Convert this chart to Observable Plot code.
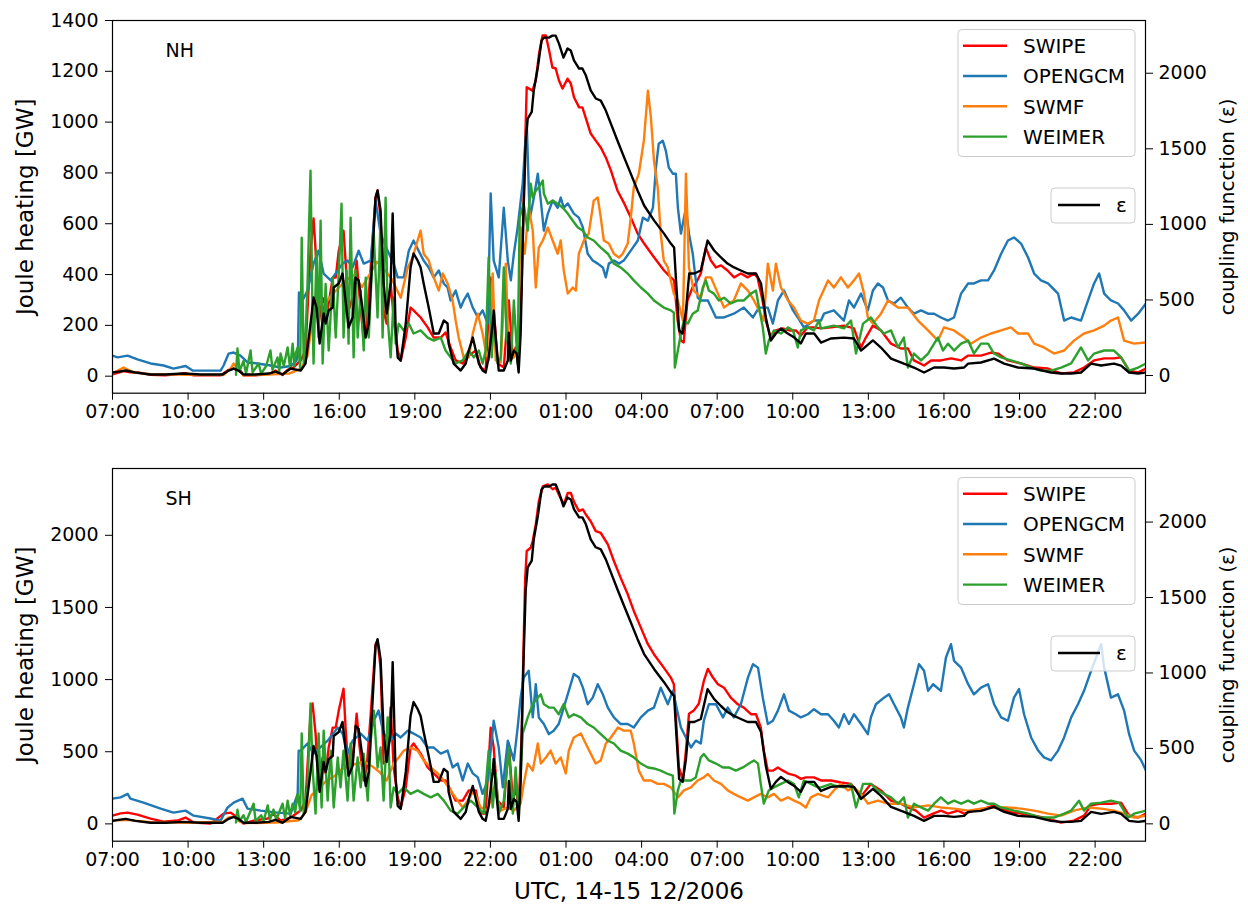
<!DOCTYPE html>
<html><head><meta charset="utf-8">
<script src="https://cdn.jsdelivr.net/npm/d3@7"></script>
<script src="https://cdn.jsdelivr.net/npm/@observablehq/plot@0.6"></script>
<style>
body{margin:0;background:#fff;font-family:"DejaVu Sans",sans-serif;}
#chart{width:1248px;height:904px;}
#chart svg{display:block;}
</style></head><body><div id="chart"></div>
<script>
// time values: hours after 2006-12-14 07:00 UTC
const seriesNames = ["SWIPE", "OPENGCM", "SWMF", "WEIMER"];
const seriesColors = ["#ff0000", "#1f77b4", "#ff7f0e", "#2ca02c"];
const epsName = "ε";
const panelNames = ["NH", "SH"];
const xTickHours = [0,3,6,9,12,15,18,21,24,27,30,33,36,39];
const nhLeftTicks = [0,200,400,600,800,1000,1200,1400];
const shLeftTicks = [0,500,1000,1500,2000];
const rightTicks = [0,500,1000,1500,2000];

const eps = [[0,20],[0.24,26],[0.52,33],[0.91,20],[1.51,7],[2.1,7],[2.82,13],[3.49,7],[4.37,7],[4.61,33],[4.81,46],[5.0,33],[5.2,7],[5.68,7],[6.2,13],[6.47,26],[6.75,7],[7.07,46],[7.47,33],[7.66,79],[7.86,344],[7.98,516],[8.1,450],[8.22,212],[8.38,410],[8.46,344],[8.58,430],[8.74,450],[8.78,582],[8.98,609],[9.13,675],[9.25,496],[9.37,318],[9.53,384],[9.65,648],[9.77,629],[9.93,430],[10.05,251],[10.17,344],[10.29,715],[10.44,1178],[10.52,1224],[10.64,1092],[10.76,609],[10.88,410],[11.04,609],[11.12,1072],[11.16,827],[11.24,298],[11.32,119],[11.44,99],[11.64,344],[11.83,715],[11.95,807],[12.11,761],[12.23,715],[12.35,609],[12.55,450],[12.75,278],[12.95,278],[13.15,364],[13.3,344],[13.34,212],[13.54,79],[13.82,33],[14.02,79],[14.14,165],[14.3,251],[14.42,165],[14.54,79],[14.69,33],[14.81,20],[14.93,119],[15.09,344],[15.13,430],[15.21,251],[15.33,33],[15.53,33],[15.69,99],[15.73,284],[15.81,99],[15.93,165],[16.04,146],[16.12,20],[16.2,278],[16.3,1000],[16.4,1550],[16.48,1700],[16.64,1745],[16.72,1886],[16.88,2038],[17.03,2216],[17.13,2236],[17.32,2236],[17.46,2249],[17.59,2249],[17.72,2196],[17.9,2104],[18.06,2163],[18.19,2150],[18.32,2084],[18.52,2031],[18.65,2031],[18.79,1985],[18.98,1886],[19.18,1833],[19.38,1819],[19.58,1753],[19.78,1667],[20.04,1555],[20.31,1442],[20.57,1336],[20.84,1224],[21.1,1125],[21.5,1025],[21.89,939],[22.16,873],[22.29,847],[22.36,648],[22.49,298],[22.63,278],[22.76,430],[22.89,675],[23.09,675],[23.35,695],[23.62,893],[23.88,827],[24.15,781],[24.41,741],[24.67,715],[24.94,695],[25.21,675],[25.54,675],[25.74,609],[25.93,384],[26.13,232],[26.33,278],[26.53,311],[26.8,278],[27.06,251],[27.32,212],[27.52,278],[27.85,278],[28.12,218],[28.51,245],[29.03,251],[29.43,245],[29.71,165],[30.18,232],[30.5,185],[30.9,112],[31.41,79],[31.81,53],[32.21,20],[32.61,53],[33.0,53],[33.4,46],[33.8,53],[33.96,79],[34.47,86],[34.99,112],[35.39,79],[35.94,53],[36.58,46],[37.25,20],[37.65,13],[38.05,13],[38.44,20],[38.84,79],[39.24,66],[39.75,79],[40.03,66],[40.35,20],[40.71,13],[41.02,20]];

const nhSwipe = [[0,7],[0.44,20],[0.71,15],[0.99,15],[1.51,5],[2.1,3],[2.9,12],[3.22,3],[4.29,3],[4.61,25],[4.81,30],[5.08,22],[5.2,3],[5.68,3],[6.27,10],[6.47,22],[6.75,5],[6.95,25],[7.19,35],[7.47,62],[7.66,101],[7.86,494],[7.98,621],[8.06,494],[8.18,207],[8.34,309],[8.46,219],[8.58,286],[8.74,388],[8.86,388],[8.98,494],[9.17,573],[9.25,455],[9.37,259],[9.53,309],[9.69,455],[9.81,309],[9.97,140],[10.09,207],[10.25,428],[10.44,703],[10.52,731],[10.64,624],[10.76,259],[10.88,207],[11.04,365],[11.16,231],[11.32,101],[11.44,62],[11.64,152],[11.83,270],[11.95,259],[12.23,231],[12.51,192],[12.75,152],[13.03,152],[13.22,172],[13.42,113],[13.62,62],[13.9,50],[14.14,81],[14.42,101],[14.61,34],[14.81,22],[15.01,388],[15.13,270],[15.29,50],[15.53,34],[15.73,298],[15.89,74],[16.0,113],[16.12,74],[16.24,365],[16.32,700],[16.44,1137],[16.67,1124],[16.8,1164],[16.93,1270],[17.07,1341],[17.2,1341],[17.33,1282],[17.46,1215],[17.59,1211],[17.72,1164],[17.86,1132],[18.06,1171],[18.19,1152],[18.32,1097],[18.52,1058],[18.65,1058],[18.78,1018],[18.98,955],[19.18,927],[19.38,900],[19.58,861],[19.78,810],[20.04,731],[20.31,680],[20.57,625],[20.84,562],[21.1,522],[21.5,467],[21.89,416],[22.16,389],[22.29,377],[22.43,219],[22.56,140],[22.67,133],[22.82,298],[23.02,349],[23.15,365],[23.35,404],[23.55,506],[23.75,455],[23.95,428],[24.15,436],[24.41,416],[24.67,389],[24.94,404],[25.21,389],[25.47,404],[25.6,389],[25.8,298],[25.93,219],[26.13,152],[26.33,180],[26.6,188],[26.86,180],[27.12,180],[27.32,160],[27.59,192],[27.85,192],[28.12,188],[28.52,192],[29.03,199],[29.43,188],[29.6,140],[29.71,113],[29.9,152],[30.18,199],[30.5,180],[30.9,128],[31.29,109],[31.57,109],[31.81,62],[32.21,42],[32.49,62],[32.88,62],[33.28,70],[33.68,62],[33.96,81],[34.47,81],[34.87,93],[35.15,89],[35.54,62],[36.06,50],[36.58,34],[37.13,30],[37.65,11],[38.16,15],[38.56,34],[38.96,62],[39.36,70],[39.75,70],[40.03,74],[40.35,22],[40.71,15],[41.02,30]];

const nhOpengcm = [[0,81],[0.2,74],[0.6,81],[0.99,66],[1.51,50],[2.03,42],[2.42,30],[2.9,40],[3.18,22],[3.61,22],[4.29,22],[4.41,42],[4.61,89],[4.81,93],[5.08,81],[5.36,54],[5.76,50],[6.27,42],[6.67,34],[7.07,40],[7.3,60],[7.36,90],[7.4,330],[7.55,300],[7.74,337],[7.98,443],[8.18,494],[8.38,404],[8.66,377],[8.94,416],[9.13,443],[9.33,455],[9.53,428],[9.77,494],[9.97,443],[10.25,455],[10.44,691],[10.64,561],[10.92,494],[11.16,443],[11.32,389],[11.56,389],[11.76,494],[11.95,534],[12.15,494],[12.35,455],[12.55,428],[12.75,389],[12.95,416],[13.15,365],[13.3,349],[13.42,298],[13.62,337],[13.82,270],[13.94,298],[14.1,325],[14.3,270],[14.5,231],[14.69,259],[14.89,207],[15.01,719],[15.13,455],[15.33,389],[15.53,663],[15.69,455],[15.81,377],[15.93,482],[16.08,585],[16.28,758],[16.44,1000],[16.56,620],[16.72,700],[16.88,797],[17.0,691],[17.12,573],[17.28,640],[17.47,691],[17.67,663],[17.79,703],[17.91,663],[18.07,680],[18.31,640],[18.51,624],[18.67,585],[18.86,482],[19.06,455],[19.26,443],[19.46,428],[19.58,389],[19.7,443],[19.9,455],[20.1,443],[20.29,455],[20.57,494],[20.85,534],[21.05,624],[21.25,612],[21.45,663],[21.57,821],[21.68,915],[21.84,927],[21.96,888],[22.08,821],[22.24,797],[22.36,797],[22.44,663],[22.56,561],[22.76,663],[22.88,561],[23.03,482],[23.23,309],[23.35,298],[23.63,298],[23.95,231],[24.27,231],[24.66,246],[25.06,270],[25.42,231],[25.66,270],[26.01,270],[26.21,207],[26.41,298],[26.65,337],[27.01,259],[27.2,231],[27.44,192],[27.84,219],[28.12,219],[28.24,246],[28.63,259],[29.03,219],[29.23,298],[29.43,270],[29.71,325],[29.98,259],[30.18,337],[30.38,365],[30.58,349],[30.78,298],[31.02,286],[31.29,309],[31.57,270],[31.81,246],[32.09,259],[32.37,246],[32.61,246],[32.88,231],[33.16,219],[33.4,231],[33.68,325],[33.96,365],[34.19,365],[34.47,377],[34.75,377],[34.99,416],[35.27,482],[35.54,534],[35.78,546],[36.06,522],[36.34,467],[36.58,404],[36.85,377],[37.13,365],[37.53,325],[37.77,219],[38.05,231],[38.44,219],[38.72,298],[38.96,365],[39.16,404],[39.36,325],[39.63,298],[39.91,286],[40.15,259],[40.43,219],[40.71,246],[41.02,286]];

const nhSwmf = [[0,11],[0.44,34],[0.83,15],[1.5,8],[3,5],[4.41,5],[4.69,30],[4.81,50],[5.0,25],[5.2,3],[6,5],[7,10],[7.5,30],[7.74,80],[7.9,200],[8.1,300],[8.4,280],[8.7,320],[9.0,350],[9.3,380],[9.6,400],[9.9,350],[10.2,400],[10.5,450],[10.8,420],[11.1,380],[11.3,337],[11.44,309],[11.72,428],[11.91,467],[12.11,534],[12.23,573],[12.35,482],[12.55,455],[12.75,389],[12.95,337],[13.11,404],[13.3,365],[13.5,298],[13.62,219],[13.74,152],[13.94,74],[14.14,74],[14.3,168],[14.5,246],[14.69,168],[14.81,101],[14.93,62],[15.09,404],[15.21,62],[15.41,54],[15.61,443],[15.73,62],[15.93,74],[16.08,113],[16.2,585],[16.36,482],[16.52,663],[16.68,573],[16.8,349],[16.92,506],[17.08,534],[17.28,585],[17.47,534],[17.67,482],[17.79,534],[17.91,416],[18.07,325],[18.27,349],[18.39,337],[18.51,482],[18.71,534],[18.9,561],[19.1,691],[19.26,703],[19.38,624],[19.5,534],[19.7,522],[19.9,482],[20.1,467],[20.25,482],[20.45,522],[20.57,624],[20.69,743],[20.89,797],[21.09,927],[21.25,1124],[21.37,1018],[21.49,849],[21.64,743],[21.76,561],[21.88,455],[22.04,428],[22.16,377],[22.28,325],[22.44,298],[22.64,219],[22.76,797],[22.88,428],[23.07,337],[23.35,309],[23.55,389],[23.75,389],[24.03,325],[24.27,270],[24.66,298],[24.94,365],[25.22,337],[25.46,298],[25.66,259],[25.85,219],[26.01,443],[26.21,337],[26.33,443],[26.53,349],[26.81,298],[27.05,270],[27.32,219],[27.6,207],[27.84,219],[28.04,298],[28.4,377],[28.63,349],[28.91,389],[29.19,349],[29.43,377],[29.63,404],[29.83,325],[29.98,231],[30.18,207],[30.5,246],[30.78,298],[31.18,270],[31.57,270],[31.97,219],[32.37,180],[32.76,140],[33.0,192],[33.4,180],[33.8,152],[34.07,128],[34.47,152],[34.87,168],[35.27,180],[35.66,192],[35.94,168],[36.34,168],[36.58,128],[36.97,113],[37.37,89],[37.77,101],[38.16,140],[38.56,168],[38.96,180],[39.36,199],[39.63,219],[39.91,231],[40.15,140],[40.55,128],[41.02,133]];

const nhWeimer = [[4.9,5],[4.96,109],[5.04,20],[5.2,60],[5.3,10],[5.48,101],[5.56,15],[5.8,50],[5.9,10],[6.1,40],[6.27,101],[6.35,25],[6.55,74],[6.62,20],[6.67,89],[6.8,40],[6.95,113],[7.05,30],[7.15,128],[7.22,40],[7.27,89],[7.35,113],[7.39,101],[7.45,30],[7.51,545],[7.59,50],[7.66,152],[7.74,363],[7.86,809],[7.94,231],[7.98,50],[8.1,494],[8.18,152],[8.26,612],[8.34,50],[8.46,363],[8.58,101],[8.74,388],[8.86,152],[9.02,494],[9.09,679],[9.17,152],[9.29,416],[9.37,128],[9.45,624],[9.57,74],[9.65,416],[9.73,152],[9.85,337],[9.97,101],[10.05,388],[10.17,152],[10.33,494],[10.37,561],[10.52,231],[10.64,624],[10.72,152],[10.84,703],[10.92,231],[11.04,74],[11.16,309],[11.24,128],[11.36,207],[11.56,180],[11.76,207],[11.95,168],[12.23,180],[12.51,152],[12.75,140],[13.03,152],[13.22,101],[13.42,74],[13.62,50],[13.9,62],[14.14,101],[14.34,74],[14.54,101],[14.69,50],[14.81,101],[14.93,467],[15.05,74],[15.13,207],[15.29,50],[15.41,74],[15.53,428],[15.65,152],[15.81,50],[15.93,298],[16.08,50],[16.16,624],[16.32,679],[16.48,573],[16.6,758],[16.68,703],[16.8,730],[16.92,743],[17.08,770],[17.12,719],[17.28,679],[17.47,691],[17.67,679],[17.87,663],[18.07,640],[18.27,612],[18.47,585],[18.67,573],[18.86,546],[19.1,534],[19.38,506],[19.66,482],[19.9,443],[20.17,428],[20.45,404],[20.69,377],[20.97,349],[21.25,325],[21.49,298],[21.88,270],[22.16,259],[22.28,250],[22.32,34],[22.44,101],[22.56,168],[22.68,219],[22.84,207],[23.03,246],[23.23,259],[23.43,349],[23.55,377],[23.67,337],[23.87,325],[24.07,298],[24.27,309],[24.54,286],[24.82,298],[25.06,298],[25.34,325],[25.54,337],[25.66,270],[25.81,192],[25.93,89],[26.05,140],[26.25,180],[26.53,168],[26.81,192],[27.01,180],[27.2,113],[27.32,180],[27.6,192],[27.84,180],[28.04,219],[28.12,188],[28.63,199],[29.03,188],[29.31,219],[29.51,89],[29.79,207],[30.1,231],[30.38,192],[30.62,168],[30.9,180],[31.18,113],[31.41,152],[31.57,34],[31.81,89],[32.09,62],[32.37,89],[32.61,128],[32.76,152],[32.96,101],[33.16,128],[33.4,101],[33.68,128],[33.96,140],[34.19,89],[34.47,128],[34.75,128],[34.99,89],[35.27,74],[35.66,62],[36.06,50],[36.46,34],[36.85,22],[37.25,22],[37.65,34],[38.05,50],[38.44,113],[38.72,62],[38.96,89],[39.36,101],[39.75,101],[40.03,74],[40.35,22],[40.71,34],[41.02,50]];

const shSwipe = [[0,57],[0.32,73],[0.6,78],[0.99,64],[1.51,37],[2.03,16],[2.58,23],[2.9,44],[3.22,9],[3.89,2],[4.41,71],[4.69,78],[4.96,44],[5.2,2],[5.6,23],[6.16,37],[6.39,71],[6.67,23],[7.07,44],[7.47,92],[7.66,161],[7.86,763],[7.94,834],[8.06,626],[8.18,253],[8.34,460],[8.46,350],[8.58,529],[8.74,667],[8.86,667],[8.98,785],[9.17,937],[9.25,667],[9.37,350],[9.53,440],[9.69,763],[9.81,529],[9.97,301],[10.09,391],[10.25,763],[10.44,1245],[10.52,1269],[10.64,1083],[10.76,418],[10.88,440],[11.04,807],[11.16,391],[11.32,184],[11.44,114],[11.64,253],[11.83,529],[11.95,557],[12.23,487],[12.51,391],[12.75,350],[13.03,301],[13.22,301],[13.42,232],[13.62,161],[13.9,161],[14.14,232],[14.42,232],[14.61,71],[14.81,71],[15.01,667],[15.13,529],[15.29,161],[15.53,114],[15.73,557],[15.89,161],[16.0,253],[16.12,114],[16.24,626],[16.32,1269],[16.38,1700],[16.44,1891],[16.6,1914],[16.68,1960],[16.8,2075],[16.92,2235],[17.08,2339],[17.28,2353],[17.47,2319],[17.59,2330],[17.71,2284],[17.91,2215],[18.07,2293],[18.19,2293],[18.31,2235],[18.51,2168],[18.67,2179],[18.78,2146],[18.98,2097],[19.18,2029],[19.38,2016],[19.66,1937],[19.9,1822],[20.17,1705],[20.45,1591],[20.69,1476],[20.97,1360],[21.25,1245],[21.49,1176],[21.88,1083],[22.16,1014],[22.28,968],[22.36,738],[22.48,391],[22.64,301],[22.76,508],[22.88,763],[23.07,785],[23.27,832],[23.47,991],[23.63,1074],[23.83,1014],[24.03,968],[24.27,944],[24.54,875],[24.82,829],[25.06,806],[25.34,760],[25.54,760],[25.73,668],[25.85,508],[26.01,369],[26.21,369],[26.41,391],[26.61,369],[26.85,346],[27.12,334],[27.32,312],[27.52,322],[27.84,322],[28.12,301],[28.52,301],[28.91,287],[29.31,277],[29.51,232],[29.71,184],[29.79,208],[30.1,277],[30.5,232],[30.9,161],[31.29,140],[31.57,114],[31.89,92],[32.21,44],[32.57,71],[32.88,92],[33.16,71],[33.56,92],[33.8,71],[34.19,92],[34.59,106],[34.99,128],[35.27,106],[35.66,81],[36.06,71],[36.58,57],[37.13,37],[37.65,9],[38.16,23],[38.56,57],[38.84,128],[39.24,140],[39.63,140],[40.03,147],[40.35,57],[40.71,44],[41.02,71]];

const shOpengcm = [[0,175],[0.32,184],[0.6,208],[0.71,175],[1.23,147],[1.91,106],[2.42,78],[2.9,92],[3.22,57],[3.89,37],[4.29,23],[4.57,114],[4.81,147],[5.16,175],[5.36,106],[5.88,92],[6.55,78],[7.07,71],[7.35,208],[7.39,508],[7.47,508],[7.74,557],[7.98,487],[8.54,577],[8.94,667],[9.13,626],[9.33,487],[9.53,577],[9.85,626],[10.13,577],[10.37,715],[10.56,785],[10.76,626],[11.04,577],[11.24,626],[11.44,599],[11.72,646],[11.95,626],[12.23,599],[12.51,529],[12.75,529],[13.03,487],[13.3,508],[13.5,391],[13.7,418],[13.9,301],[14.1,418],[14.3,350],[14.5,322],[14.69,208],[14.89,301],[15.13,715],[15.33,529],[15.49,253],[15.69,577],[15.93,440],[16.08,667],[16.2,875],[16.32,1014],[16.52,1061],[16.68,738],[16.8,968],[16.92,738],[17.12,692],[17.32,622],[17.51,646],[17.71,692],[17.91,806],[18.11,922],[18.31,1039],[18.51,1014],[18.67,944],[18.86,829],[19.06,875],[19.26,968],[19.46,898],[19.66,806],[19.9,738],[20.17,692],[20.45,692],[20.69,668],[20.97,738],[21.25,785],[21.49,806],[21.76,944],[22.04,829],[22.24,922],[22.36,829],[22.56,668],[22.76,599],[22.96,529],[23.15,577],[23.35,557],[23.47,715],[23.67,829],[23.95,829],[24.23,738],[24.42,806],[24.66,738],[24.94,829],[25.22,1014],[25.42,1107],[25.62,1083],[25.81,875],[26.01,692],[26.21,715],[26.41,785],[26.65,898],[26.85,785],[27.12,760],[27.32,738],[27.6,760],[27.84,795],[28.12,760],[28.4,760],[28.63,715],[28.83,668],[29.03,760],[29.23,692],[29.43,760],[29.71,692],[29.98,622],[30.1,738],[30.3,829],[30.62,875],[30.82,898],[31.02,829],[31.29,738],[31.41,668],[31.57,806],[31.81,968],[32.01,1107],[32.21,1061],[32.37,922],[32.57,968],[32.88,922],[33.08,1153],[33.28,1245],[33.4,1130],[33.68,1083],[33.96,968],[34.19,898],[34.47,944],[34.75,968],[34.99,829],[35.27,738],[35.54,715],[35.78,875],[35.98,934],[36.18,760],[36.46,599],[36.74,508],[36.97,461],[37.25,440],[37.53,508],[37.77,599],[38.05,738],[38.32,829],[38.56,922],[38.84,1061],[39.04,1153],[39.24,1245],[39.36,1083],[39.63,875],[39.91,898],[40.15,785],[40.35,622],[40.55,508],[40.83,440],[41.02,369]];

const shSwmf = [[0,23],[0.6,28],[1.5,12],[3,8],[4.4,15],[4.61,45],[4.81,50],[5.0,20],[5.2,5],[6.5,10],[7.4,25],[7.66,80],[7.9,200],[8.2,250],[8.5,300],[8.8,330],[9.1,380],[9.4,400],[9.7,420],[10.0,430],[10.3,400],[10.6,360],[10.88,301],[11.16,418],[11.36,460],[11.56,508],[11.83,529],[12.11,508],[12.35,440],[12.63,391],[12.91,350],[13.15,301],[13.42,232],[13.7,161],[13.9,114],[14.1,161],[14.34,232],[14.61,114],[14.89,92],[15.13,253],[15.41,92],[15.69,114],[15.93,92],[16.2,140],[16.32,277],[16.48,418],[16.68,369],[16.88,557],[17.0,418],[17.2,460],[17.39,508],[17.59,418],[17.79,460],[17.99,350],[18.11,508],[18.31,599],[18.59,626],[18.78,557],[18.98,487],[19.18,418],[19.38,440],[19.58,557],[19.78,599],[20.06,668],[20.29,646],[20.57,646],[20.69,557],[20.89,369],[21.09,301],[21.37,301],[21.64,277],[21.88,277],[22.16,253],[22.44,184],[22.68,232],[22.96,253],[23.23,301],[23.47,322],[23.63,346],[23.87,301],[24.15,277],[24.42,232],[24.66,208],[24.94,184],[25.22,161],[25.46,184],[25.73,208],[26.01,184],[26.25,208],[26.53,161],[26.81,184],[27.05,161],[27.32,140],[27.52,114],[27.72,184],[28.0,208],[28.4,184],[28.63,232],[28.91,277],[29.19,232],[29.43,253],[29.71,208],[29.98,140],[30.38,161],[30.78,140],[31.29,140],[31.81,114],[32.37,128],[32.88,114],[33.4,106],[33.96,92],[34.47,106],[34.99,114],[35.54,114],[36.06,106],[36.58,92],[37.13,71],[37.65,57],[38.16,92],[38.72,114],[39.24,106],[39.75,92],[40.15,71],[40.55,44],[41.02,57]];

const shWeimer = [[4.9,10],[4.96,99],[5.04,20],[5.2,60],[5.3,15],[5.6,140],[5.68,20],[5.9,60],[6.0,20],[6.16,128],[6.25,30],[6.39,99],[6.5,30],[6.75,140],[6.85,40],[6.95,161],[7.05,60],[7.15,140],[7.25,80],[7.35,208],[7.45,90],[7.51,626],[7.59,71],[7.74,253],[7.86,834],[7.94,391],[8.06,71],[8.18,626],[8.3,114],[8.38,646],[8.54,161],[8.66,508],[8.78,114],[8.94,460],[9.05,253],[9.17,508],[9.33,161],[9.45,557],[9.57,161],[9.73,460],[9.85,253],[9.97,487],[10.13,161],[10.25,577],[10.37,785],[10.52,391],[10.64,529],[10.76,161],[10.92,738],[11.04,114],[11.16,253],[11.32,208],[11.56,253],[11.83,208],[12.11,232],[12.35,208],[12.63,184],[12.91,208],[13.15,161],[13.42,92],[13.7,71],[13.94,114],[14.22,161],[14.5,114],[14.73,71],[14.93,508],[15.09,114],[15.21,350],[15.33,71],[15.53,161],[15.73,529],[15.89,71],[16.0,391],[16.12,71],[16.28,626],[16.48,738],[16.68,830],[16.88,875],[17.0,898],[17.12,830],[17.32,806],[17.51,806],[17.71,760],[17.91,830],[18.11,738],[18.31,760],[18.59,738],[18.86,692],[19.1,668],[19.38,622],[19.66,577],[19.9,557],[20.17,508],[20.45,487],[20.69,461],[20.97,418],[21.25,391],[21.49,384],[21.76,369],[22.04,346],[22.24,334],[22.3,71],[22.44,232],[22.56,301],[22.76,301],[22.96,301],[23.15,322],[23.35,461],[23.47,484],[23.67,440],[23.95,418],[24.23,391],[24.46,391],[24.74,369],[25.02,391],[25.26,418],[25.46,440],[25.62,418],[25.73,277],[25.85,140],[26.05,232],[26.25,253],[26.53,277],[26.81,301],[27.05,277],[27.24,184],[27.44,301],[27.72,277],[28.0,253],[28.12,253],[28.52,277],[28.63,266],[29.03,253],[29.31,277],[29.51,114],[29.79,277],[30.1,277],[30.38,232],[30.62,208],[30.9,184],[31.18,140],[31.41,184],[31.57,44],[31.81,140],[32.09,114],[32.37,92],[32.61,140],[32.88,184],[33.16,140],[33.4,161],[33.68,140],[33.96,161],[34.19,140],[34.47,161],[34.75,140],[34.99,140],[35.27,114],[35.78,92],[36.34,71],[36.85,44],[37.37,44],[37.77,71],[38.05,92],[38.36,161],[38.56,92],[38.84,140],[39.24,147],[39.63,161],[39.95,147],[40.31,44],[40.55,71],[41.02,92]];

const T0 = Date.UTC(2006, 11, 14, 7);
const toDate = h => new Date(T0 + h * 3600e3);
const xDomain = [toDate(0), toDate(41)];
const FONT = "DejaVu Sans";

function panel(opts) {
  const {name, series, leftDomain, leftTicks, rightDomain, height, marginBottom, xLabel} = opts;
  const [l0, l1] = leftDomain, [r0, r1] = rightDomain;
  const toLeft = e => l0 + (e - r0) * (l1 - l0) / (r1 - r0);
  const fromLeft = v => r0 + (v - l0) * (r1 - r0) / (l1 - l0);
  const marks = [];
  series.forEach((data, i) => {
    marks.push(Plot.line(data, {x: d => toDate(d[0]), y: d => d[1], stroke: seriesColors[i], strokeWidth: 2.4, clip: true}));
  });
  marks.push(Plot.line(eps, {x: d => toDate(d[0]), y: d => toLeft(d[1]), stroke: "#000", strokeWidth: 2.4, clip: true}));
  marks.push(Plot.frame({stroke: "#000", strokeWidth: 1.2}));
  marks.push(Plot.axisX({ticks: xTickHours.map(toDate), tickFormat: d3.utcFormat("%H:%M"), tickSize: 7, tickPadding: 4, label: null, stroke: "#000", fill: "#000"}));
  marks.push(Plot.axisY({ticks: leftTicks, anchor: "left", tickSize: 7, tickPadding: 7, label: null, tickFormat: d => String(d), fill: "#000"}));
  marks.push(Plot.axisY(rightTicks.map(toLeft), {anchor: "right", tickSize: 7, tickPadding: 6, label: null, tickFormat: d => String(Math.round(fromLeft(d))), fill: "#000"}));
  marks.push(Plot.text([name], {frameAnchor: "top-left", dx: 53, dy: 30, textAnchor: "start", lineAnchor: "middle", fontSize: 19, fill: "#000"}));
  marks.push(Plot.text(["Joule heating [GW]"], {frameAnchor: "left", dx: -87, rotate: -90, textAnchor: "middle", lineAnchor: "middle", fontSize: 23, fill: "#000"}));
  marks.push(Plot.text(["coupling funcction (ε)"], {frameAnchor: "right", dx: 82, rotate: -90, textAnchor: "middle", lineAnchor: "middle", fontSize: 20, fill: "#000"}));
  if (xLabel) marks.push(Plot.text([xLabel], {frameAnchor: "bottom", dy: 50, textAnchor: "middle", lineAnchor: "middle", fontSize: 23, fill: "#000"}));
  const svg = Plot.plot({
    width: 1248, height, marginLeft: 112, marginRight: 103, marginTop: 20, marginBottom,
    style: {fontFamily: FONT, fontSize: "19px", color: "#000", background: "#fff", overflow: "visible"},
    x: {type: "utc", domain: xDomain},
    y: {domain: leftDomain},
    marks
  });
  addLegend(svg);
  return svg;
}

function addLegend(svg) {
  const g = d3.select(svg).append("g").attr("font-family", FONT).attr("font-size", 20).attr("text-anchor", "start");
  g.append("rect").attr("x", 958).attr("y", 29.5).attr("width", 177).attr("height", 127)
    .attr("rx", 4).attr("fill", "#fff").attr("fill-opacity", 0.8).attr("stroke", "#cccccc");
  seriesNames.forEach((n, i) => {
    const y = 45.7 + i * 30.3;
    g.append("line").attr("x1", 963).attr("x2", 1007).attr("y1", y).attr("y2", y)
      .attr("stroke", seriesColors[i]).attr("stroke-width", 2.4);
    g.append("text").attr("x", 1023).attr("y", y).attr("dy", "0.36em").attr("text-anchor", "start").attr("fill", "#000").text(n);
  });
  g.append("rect").attr("x", 1051).attr("y", 188).attr("width", 84).attr("height", 35)
    .attr("rx", 4).attr("fill", "#fff").attr("fill-opacity", 0.8).attr("stroke", "#cccccc");
  g.append("line").attr("x1", 1058).attr("x2", 1100).attr("y1", 205).attr("y2", 205)
    .attr("stroke", "#000").attr("stroke-width", 2.4);
  g.append("text").attr("x", 1116).attr("y", 205).attr("dy", "0.36em").attr("text-anchor", "start").attr("fill", "#000").text(epsName);
}

const chart = document.getElementById("chart");
chart.append(panel({
  name: panelNames[0], series: [nhSwipe, nhOpengcm, nhSwmf, nhWeimer],
  leftDomain: [-67, 1400], leftTicks: nhLeftTicks, rightDomain: [-117, 2349],
  height: 448, marginBottom: 55.3
}));
chart.append(panel({
  name: panelNames[1], series: [shSwipe, shOpengcm, shSwmf, shWeimer],
  leftDomain: [-120, 2463], leftTicks: shLeftTicks, rightDomain: [-115, 2355],
  height: 456, marginBottom: 63.3, xLabel: "UTC, 14-15 12/2006"
}));
</script>
</body></html>
